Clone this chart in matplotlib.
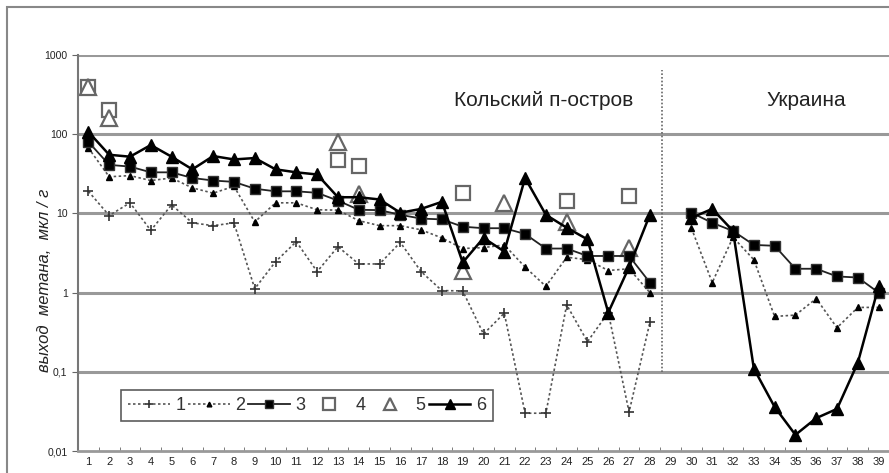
import numpy as np
import matplotlib.pyplot as plt
from matplotlib.patches import Rectangle

plt.rcParams['font.family'] = ['Liberation Sans', 'DejaVu Sans']

samples = list(range(1, 40))
nan = np.nan

# 1 - crosses, dotted
s1 = [19, 9.4, 13.6, 6.1, 12.8, 7.6, 7.0, 7.6, 1.12, 2.46, 4.4, 1.84, 3.8, 2.3,
      2.3, 4.3, 1.84, 1.06, 1.05, 0.3, 0.55, 0.03, 0.03, 0.7, 0.24, 0.56, 0.031, 0.42,
      nan, nan, nan, nan, nan, nan, nan, nan, nan, nan, nan]
# 2 - small triangles, dotted
s2 = [67, 29, 30, 26, 28, 21, 18, 22, 7.8, 13.6, 13.6, 11.1, 11, 8.1,
      7.0, 7.0, 6.2, 4.9, 3.6, 3.7, 4.0, 2.1, 1.2, 2.8, 2.6, 1.9, 2.0, 1.0,
      nan, 6.5, 1.34, 5.0, 2.6, 0.5, 0.52, 0.84, 0.36, 0.65, 0.65]
# 3 - filled squares, solid
s3 = [80, 41, 39, 33, 33, 28, 26, 25, 20.5, 19, 19, 18.2, 14.5, 11.1,
      11, 9.6, 8.6, 8.4, 6.8, 6.5, 6.5, 5.5, 3.6, 3.6, 2.9, 2.9, 2.9, 1.34,
      nan, 10.2, 7.6, 6.0, 4.0, 3.9, 2.0, 2.0, 1.6, 1.55, 1.0]
# 6 - filled triangles, solid
s6 = [107, 55, 52, 73, 52, 36, 53, 48, 50, 36, 33, 31, 16, 16,
      15, 10.2, 11.4, 14, 2.4, 4.9, 3.3, 28, 9.6, 6.6, 4.7, 0.56, 2.1, 9.6,
      nan, 8.8, 11.4, 6.0, 0.11, 0.036, 0.016, 0.026, 0.034, 0.13, 1.2]
# 4 - open squares (points only)
s4_x = [1, 2, 13, 14, 19, 24, 27]
s4_y = [400, 203, 47, 40, 18, 14.5, 16.7]
# 5 - open triangles (points only)
s5_x = [1, 2, 13, 14, 19, 21, 24, 27]
s5_y = [390, 160, 80, 17.7, 1.85, 13.6, 7.9, 3.7]

region_labels = ["Кольский п-остров", "Украина"]
ytick_vals = [0.01, 0.1, 1, 10, 100, 1000]
ytick_text = ["0,01", "0,1", "1", "10", "100", "1000"]

fig = plt.figure(figsize=(8.89, 4.73), dpi=100)
ax = fig.add_axes([78 / 889, 1 - 451 / 473, 1 - 78 / 889, (451 - 55) / 473])

fig.patches.append(Rectangle((7 / 889, -0.1), 2, 1.1 - 7 / 473, transform=fig.transFigure,
                             fill=False, edgecolor='#888888', lw=1.5))

for v in ytick_vals[1:]:
    ax.axhline(v, color='#999999', lw=2.2, zorder=1)

ax.plot(samples, s1, ls=(0, (1.5, 1.5)), color='#555555', lw=1.2, marker='+',
        ms=7, mew=1.2, mec='#333333', label='1', zorder=3)
ax.plot(samples, s2, ls=(0, (1.5, 1.5)), color='#555555', lw=1.2, marker='^',
        ms=4, mfc='black', mec='black', label='2', zorder=3)
ax.plot(samples, s3, ls='-', color='#222222', lw=1.3, marker='s',
        ms=7.5, mfc='black', mec='#333333', label='3', zorder=4)
ax.plot(s4_x, s4_y, ls='none', marker='s', ms=10, mfc='white', mec='#666666',
        mew=1.6, label='4', zorder=2)
ax.plot(s5_x, s5_y, ls='none', marker='^', ms=11, mfc='white', mec='#666666',
        mew=1.6, label='5', zorder=2)
ax.plot(samples, s6, ls='-', color='black', lw=1.8, marker='^',
        ms=8, mfc='black', mec='black', label='6', zorder=5)

ax.plot([28.6, 28.6], [0.1, 650], ls=(0, (1, 1.2)), color='#666666', lw=1.2, zorder=1)

ax.text(22.9, 270, region_labels[0], fontsize=15, color='#222222', ha='center', va='center')
ax.text(35.5, 270, region_labels[1], fontsize=15, color='#222222', ha='center', va='center')

ax.set_yscale('log')
ax.set_ylim(0.01, 1000)
ax.set_xlim(0.5, 39.5)
ax.set_yticks(ytick_vals)
ax.set_yticklabels(ytick_text)
ax.minorticks_off()
ax.set_xticks(samples)
ax.set_xticks(np.arange(1.5, 39.5, 1), minor=True)
ax.tick_params(axis='x', which='major', length=0, labelsize=8, pad=4, colors='#222222')
ax.tick_params(axis='x', which='minor', length=3, direction='in', color='#666666')
ax.tick_params(axis='y', which='major', length=4, direction='out', labelsize=7.5,
               color='#666666', labelcolor='#222222')

for side in ['top', 'right']:
    ax.spines[side].set_visible(False)
ax.spines['left'].set_color('#777777')
ax.spines['left'].set_linewidth(1.5)
ax.spines['bottom'].set_color('#999999')
ax.spines['bottom'].set_linewidth(2)

fig.text(45 / 889, 1 - 280 / 473, "выход  метана,  мкл / г", rotation=90, fontsize=12,
         style='italic', ha='center', va='center', color='#222222')

leg = ax.legend(ncol=6, loc='center', bbox_to_anchor=(0.053, 0.038, 0.459, 0.154),
                mode='expand', fontsize=13, handlelength=2.3, handletextpad=0.3,
                markerscale=0.85, frameon=True, fancybox=False, borderaxespad=0,
                labelcolor='#333333')
leg.get_frame().set_edgecolor('#333333')
leg.get_frame().set_linewidth(1.2)

fig.savefig('out.png', dpi=100)
